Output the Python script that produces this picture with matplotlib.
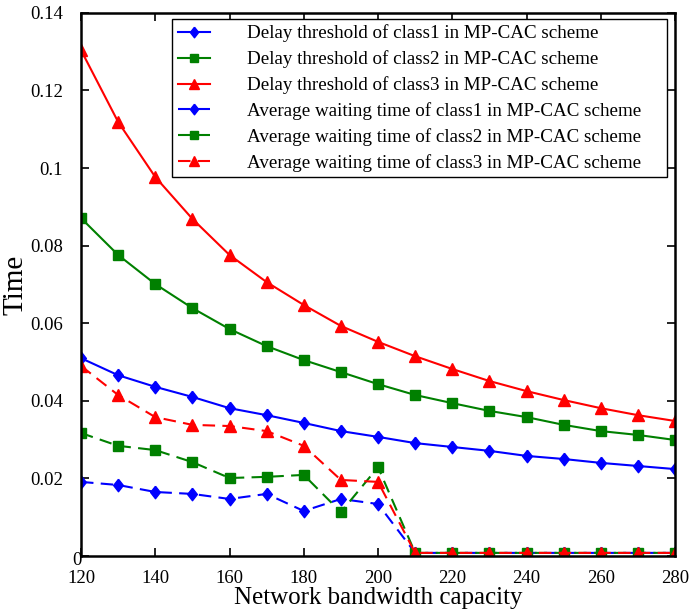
import numpy as np
import matplotlib.pyplot as plt
from matplotlib.transforms import ScaledTranslation

plt.rcParams['font.family'] = ['Liberation Serif', 'DejaVu Serif']

# network bandwidth capacity
bandwidth = [120, 130, 140, 150, 160, 170, 180, 190, 200,
             210, 220, 230, 240, 250, 260, 270, 280]

# delay thresholds (solid)
thr_class1 = [0.0510, 0.0466, 0.0436, 0.0410, 0.0381, 0.0363, 0.0343, 0.0322, 0.0307,
              0.0291, 0.0281, 0.0271, 0.0258, 0.0250, 0.0240, 0.0232, 0.0224]
thr_class2 = [0.0871, 0.0776, 0.0701, 0.0639, 0.0585, 0.0541, 0.0505, 0.0474, 0.0443,
              0.0415, 0.0394, 0.0374, 0.0358, 0.0338, 0.0322, 0.0312, 0.0299]
thr_class3 = [0.1304, 0.1119, 0.0977, 0.0869, 0.0776, 0.0706, 0.0647, 0.0593, 0.0552,
              0.0515, 0.0482, 0.0451, 0.0425, 0.0402, 0.0381, 0.0363, 0.0348]

# average waiting times (dashed)
wait_class1 = [0.0191, 0.0183, 0.0165, 0.0160, 0.0147, 0.0160, 0.0116, 0.0147, 0.0134,
               0.0008, 0.0008, 0.0008, 0.0008, 0.0008, 0.0008, 0.0008, 0.0008]
wait_class2 = [0.0317, 0.0284, 0.0273, 0.0242, 0.0201, 0.0204, 0.0209, 0.0113, 0.0229,
               0.0008, 0.0008, 0.0008, 0.0008, 0.0008, 0.0008, 0.0008, 0.0008]
wait_class3 = [0.0490, 0.0415, 0.0358, 0.0338, 0.0335, 0.0322, 0.0284, 0.0196, 0.0191,
               0.0008, 0.0008, 0.0008, 0.0008, 0.0008, 0.0008, 0.0008, 0.0008]

# wider diamond than matplotlib's 'd'
diamond = [(0, 1), (0.78, 0), (0, -1), (-0.78, 0), (0, 1)]

fig = plt.figure(figsize=(6.94, 6.13), dpi=100)
ax = fig.add_axes([0.1167, 0.093, 0.856, 0.886])

lw = 1.5
dash = (6, 3.5)
ax.plot(bandwidth, thr_class1, 'b-', marker=diamond, ms=9, lw=lw,
        label='Delay threshold of class1 in MP-CAC scheme')
ax.plot(bandwidth, thr_class2, '-', color='green', marker='s', ms=7.5, lw=lw,
        label='Delay threshold of class2 in MP-CAC scheme')
ax.plot(bandwidth, thr_class3, 'r-', marker='^', ms=9, lw=lw,
        label='Delay threshold of class3 in MP-CAC scheme')
ax.plot(bandwidth, wait_class1, 'b--', marker=diamond, ms=9, lw=lw, dashes=dash,
        label='Average waiting time of class1 in MP-CAC scheme')
ax.plot(bandwidth, wait_class2, '--', color='green', marker='s', ms=7.5, lw=lw, dashes=dash,
        label='Average waiting time of class2 in MP-CAC scheme')
ax.plot(bandwidth, wait_class3, 'r--', marker='^', ms=9, lw=lw, dashes=dash,
        label='Average waiting time of class3 in MP-CAC scheme')

ax.set_xlim(120, 280)
ax.set_ylim(0, 0.14)
ax.set_xticks(np.arange(120, 281, 20))
ax.set_yticks(np.arange(0, 0.141, 0.02))
ax.set_yticklabels(['0', '0.02', '0.04', '0.06', '0.08', '0.1', '0.12', '0.14'])
ax.tick_params(direction='in', top=True, right=True, length=6, width=1.2,
               labelsize=13.5)
ax.tick_params(axis='x', pad=10)
ax.tick_params(axis='y', pad=13)
# the "0" label sits right at the corner in the original
zero_lbl = ax.yaxis.get_ticklabels()[0]
zero_lbl.set_transform(zero_lbl.get_transform() +
                       ScaledTranslation(0.19, -0.03, fig.dpi_scale_trans))
for sp in ax.spines.values():
    sp.set_linewidth(1.8)

ax.set_xlabel('Network bandwidth capacity', fontsize=18, labelpad=0)
ax.set_ylabel('Time', fontsize=21, labelpad=1)

leg = ax.legend(loc='upper left', fontsize=13.7, frameon=True, fancybox=False,
                edgecolor='black', framealpha=1, handlelength=1.7,
                handletextpad=1.95, labelspacing=0.42, borderpad=0.3,
                markerscale=0.85,
                bbox_to_anchor=(0.153, 0.989, 0.8335, 0.0), mode='expand',
                borderaxespad=0)
leg.get_frame().set_linewidth(1.0)

fig.savefig('out.png', dpi=100)
